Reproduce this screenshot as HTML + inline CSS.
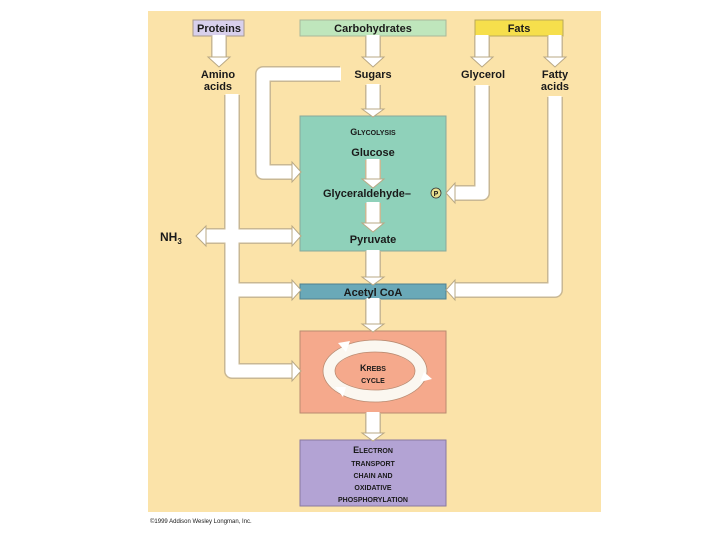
<!DOCTYPE html>
<html><head><style>
body{margin:0;background:#fff;}
svg{display:block}
text{font-family:"Liberation Sans",Arial,sans-serif;font-weight:bold;fill:#1a1a1a}
</style></head><body>
<svg width="720" height="540" viewBox="0 0 720 540" xmlns="http://www.w3.org/2000/svg">
<rect x="148" y="11" width="453" height="501" fill="#fbe3a9"/>
<!-- boxes -->
<rect x="193" y="20" width="51" height="16" fill="#d8d0ec" stroke="#a99a8a" stroke-width="1"/>
<rect x="300" y="20" width="146" height="16" fill="#bfe6bc" stroke="#a9b89a" stroke-width="1"/>
<rect x="475" y="20" width="88" height="16" fill="#f6df4c" stroke="#b9a85a" stroke-width="1"/>
<rect x="300" y="116" width="146" height="135" fill="#8fd1ba" stroke="#8aa89a" stroke-width="1"/>
<rect x="300" y="284" width="146" height="15" fill="#6aa9b8" stroke="#4f8090" stroke-width="1"/>
<rect x="300" y="331" width="146" height="82" fill="#f5a98c" stroke="#b98a70" stroke-width="1"/>
<rect x="300" y="440" width="146" height="66" fill="#b3a3d4" stroke="#8a7aa0" stroke-width="1"/>

<g fill="none" stroke-linejoin="round" stroke-linecap="butt">
<g stroke="#c9b894" stroke-width="16">
<path d="M219 36V58M373 36V58M482 36V58M555 36V58M373 85V110"/>
<path d="M340 74H263V172H292"/>
<path d="M232 95V371H292M232 236H292M232 290H292"/>
<path d="M482 86V193H455M555 97V290H455"/>
<path d="M373 160V180M373 203V224M373 251V278M373 299V325M373 413V434"/>
<path d="M232 236H206"/>
</g>
<g stroke="#ffffff" stroke-width="13">
<path d="M219 35V59M373 35V59M482 35V59M555 35V59M373 84V111"/>
<path d="M341 74H263V172H293"/>
<path d="M232 94V371H293M232 236H293M232 290H293"/>
<path d="M482 85V193H454M555 96V290H454"/>
<path d="M373 159V181M373 202V225M373 250V279M373 298V326M373 412V435"/>
<path d="M232 236H205"/>
</g>
</g>
<g fill="#ffffff" stroke="#b9a884" stroke-width="1">
<polygon points="208,57 230,57 219,67"/>
<polygon points="362,57 384,57 373,67"/>
<polygon points="471,57 493,57 482,67"/>
<polygon points="544,57 566,57 555,67"/>
<polygon points="362,109 384,109 373,117"/>
<polygon points="292,162 292,182 301,172"/>
<polygon points="292,226 292,246 301,236"/>
<polygon points="292,280 292,300 301,290"/>
<polygon points="292,361 292,381 301,371"/>
<polygon points="455,183 455,203 446,193"/>
<polygon points="455,280 455,300 446,290"/>
<polygon points="206,226 206,246 196,236"/>
<polygon points="362,179 384,179 373,188"/>
<polygon points="362,223 384,223 373,232"/>
<polygon points="362,277 384,277 373,285"/>
<polygon points="362,324 384,324 373,332"/>
<polygon points="362,433 384,433 373,441"/>
</g>
<!-- krebs ring -->
<ellipse cx="375" cy="371" rx="46" ry="25" fill="none" stroke="#fbf7f0" stroke-width="12"/>
<ellipse cx="375" cy="371" rx="52" ry="31" fill="none" stroke="#b98a70" stroke-width="0.8"/>
<ellipse cx="375" cy="371" rx="40" ry="19" fill="none" stroke="#b98a70" stroke-width="0.8"/>
<polygon points="338,343 350,341 346,352" fill="#fff"/>
<polygon points="424,372 432,379 420,382" fill="#fff"/>
<polygon points="335,387 346,387 343,397" fill="#fff"/>

<g font-size="11" text-anchor="middle">
<text x="219" y="32">Proteins</text>
<text x="373" y="32">Carbohydrates</text>
<text x="519" y="32">Fats</text>
<text x="218" y="78">Amino</text>
<text x="218" y="90">acids</text>
<text x="373" y="78">Sugars</text>
<text x="483" y="78">Glycerol</text>
<text x="555" y="78">Fatty</text>
<text x="555" y="90">acids</text>
<text x="373" y="135" font-size="9">G<tspan font-size="7">LYCOLYSIS</tspan></text>
<text x="373" y="156">Glucose</text>
<text x="367" y="197">Glyceraldehyde–</text>
<text x="373" y="243">Pyruvate</text>
<text x="373" y="296">Acetyl CoA</text>
<text x="373" y="371" font-size="9">K<tspan font-size="7">REBS</tspan></text>
<text x="373" y="383" font-size="7">CYCLE</text>
<text x="373" y="453" font-size="9">E<tspan font-size="7">LECTRON</tspan></text>
<text x="373" y="466" font-size="7">TRANSPORT</text>
<text x="373" y="478" font-size="7">CHAIN AND</text>
<text x="373" y="490" font-size="7">OXIDATIVE</text>
<text x="373" y="502" font-size="7">PHOSPHORYLATION</text>
</g>
<circle cx="436" cy="193" r="5" fill="#e8e090" stroke="#333" stroke-width="0.8"/>
<text x="436" y="196" font-size="7" text-anchor="middle">P</text>
<text x="160" y="241" font-size="12">NH<tspan font-size="8" dy="3">3</tspan></text>
<text x="150" y="523" font-size="6" style="font-weight:normal" fill="#555">©1999 Addison Wesley Longman, Inc.</text>
</svg>
</body></html>
